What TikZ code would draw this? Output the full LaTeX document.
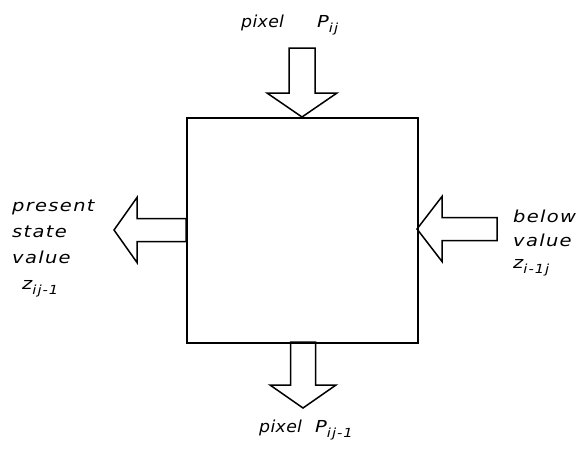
\documentclass[tikz,border=0pt]{standalone}
\usepackage{fontspec}
\setmainfont{DejaVu Sans}[FakeStretch=1.18,LetterSpace=8]
\newfontfamily\pixfont{DejaVu Sans}[FakeStretch=1.05,LetterSpace=2]
\newcommand\lbl{\fontsize{16.5}{19}\selectfont\itshape}
\newcommand\sbs[1]{\raisebox{-5.5pt}{\fontsize{12.5}{12.5}\selectfont\itshape #1}}
\begin{document}
\begin{tikzpicture}[x=1pt,y=-1pt,
  arr/.style={draw=black,line width=1.5pt,line join=miter,fill=white},
  txt/.style={anchor=base west,inner sep=0pt,font=\lbl},
  blockbox/.style={draw=black,line width=1.8pt,inner sep=0pt,anchor=north west}]
\useasboundingbox (0,0) rectangle (578,448);
% arrows
\coordinate (ttip) at (302,117);
\coordinate (btip) at (303,408);
\coordinate (ltip) at (114,230);
\coordinate (rtip) at (417,229);
\draw[arr] (ttip) -- ++(-35,-24) -- ++(22,0) -- ++(0,-45) -- ++(26,0) -- ++(0,45) -- ++(22,0) -- cycle;
\draw[arr] (btip) -- ++(-33,-23) -- ++(20.5,0) -- ++(0,-43) -- ++(25,0) -- ++(0,43) -- ++(20.5,0) -- cycle;
\draw[arr] (ltip) -- ++(23,-32.5) -- ++(0,21) -- ++(49,0) -- ++(0,23) -- ++(-49,0) -- ++(0,21) -- cycle;
\draw[arr] (rtip) -- ++(25,-32.5) -- ++(0,21) -- ++(55,0) -- ++(0,23) -- ++(-55,0) -- ++(0,21) -- cycle;
% box
\node[blockbox,minimum width=231pt,minimum height=225pt] (box) at (186,117) {};
% labels
\node[txt] (t1) at (241,27) {\pixfont\itshape pixel};
\node[txt] (t2) at (317,27) {P\sbs{ij}};
\node[txt] (b1) at (259,432) {\pixfont\itshape pixel};
\node[txt] (b2) at (315,432) {P\sbs{ij-1}};
\node[txt] (l1) at (12,211) {present};
\node[txt] (l2) at (12,237) {state};
\node[txt] (l3) at (12,263) {value};
\node[txt] (l4) at (22,289) {z\sbs{ij-1}};
\node[txt] (r1) at (513,222) {below};
\node[txt] (r2) at (513,246) {value};
\node[txt] (r3) at (513,268) {z\sbs{i-1j}};
\end{tikzpicture}
\end{document}
